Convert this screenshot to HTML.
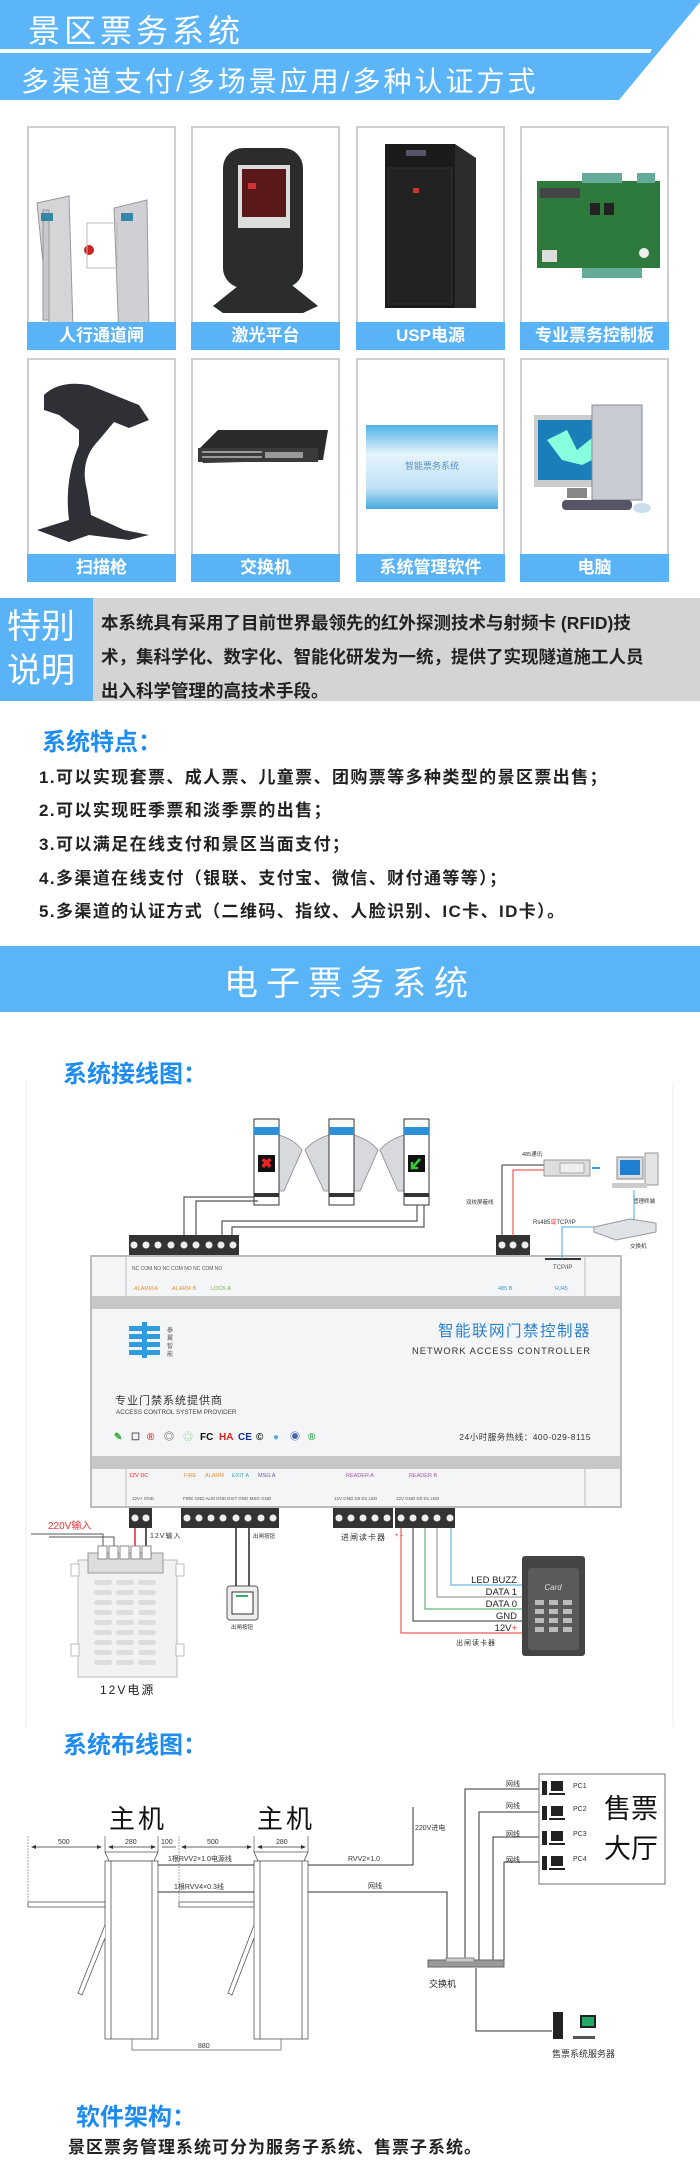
<!DOCTYPE html>
<html><head><meta charset="utf-8">
<style>
*{margin:0;padding:0;box-sizing:border-box}
body{width:700px;height:2170px;background:#fff;position:relative;overflow:hidden;font-family:"Liberation Sans","Noto Sans CJK SC",sans-serif}
.a{position:absolute;white-space:nowrap}
.card{position:absolute;width:149px;border:2px solid #cfcfcf;background:#fff}
.lab{position:absolute;left:-2px;right:-2px;bottom:-2px;height:28px;background:#5ab3f6;color:#fff;font-size:17px;text-align:center;line-height:28px;font-weight:bold}
.blue{color:#1c8cf0;font-weight:bold;font-size:24px}
.li{position:absolute;left:39px;font-size:17px;font-weight:bold;color:#222;letter-spacing:1.4px;white-space:nowrap}
</style></head><body>

<!-- header -->
<svg class="a" style="left:0;top:0" width="700" height="100">
<polygon points="0,0 700,0 700,2 619,100 0,100" fill="#5cb5f8"/>
<polygon points="0,49 652,49 650,53 0,53" fill="#fff"/>
</svg>
<div class="a" style="left:28px;top:6px;font-size:32px;color:#fff;letter-spacing:4px">景区票务系统</div>
<div class="a" style="left:21px;top:60px;font-size:28px;color:#fff;letter-spacing:3px">多渠道支付/多场景应用/多种认证方式</div>

<!-- cards -->
<div class="card" style="left:27px;top:126px;height:224px">
<svg width="145" height="196"><g fill="#c8c8cc" stroke="#999"><path d="M8 75 L40 68 L44 200 L20 195 Z" fill="#d5d5d8"/><rect x="14" y="82" width="6" height="110"/><path d="M85 80 L118 72 L120 205 L90 210 Z" fill="#d0d0d4"/></g><rect x="12" y="85" width="12" height="8" fill="#38a"/><rect x="92" y="85" width="12" height="8" fill="#38a"/><circle cx="60" cy="122" r="5" fill="#c22"/><rect x="58" y="95" width="30" height="45" fill="none" stroke="#bbb"/></svg>
<div class="lab">人行通道闸</div></div>
<div class="card" style="left:191px;top:126px;height:224px">
<svg width="145" height="196"><rect x="30" y="20" width="80" height="140" rx="20" fill="#2b2d2c"/><rect x="45" y="37" width="52" height="63" fill="#ddd"/><rect x="49" y="41" width="44" height="48" fill="#5a1818"/><rect x="55" y="55" width="8" height="6" fill="#c33"/><path d="M20 178 L55 150 L90 150 L125 178 L110 185 L30 185 Z" fill="#2b2d2c"/></svg>
<div class="lab">激光平台</div></div>
<div class="card" style="left:356px;top:126px;height:224px">
<svg width="145" height="196"><rect x="27" y="16" width="70" height="164" fill="#1b1b1b"/><path d="M97 16 L118 30 L118 180 L97 180 Z" fill="#2c2c2c"/><rect x="48" y="22" width="20" height="6" fill="#556"/><rect x="30" y="40" width="64" height="136" fill="#222" stroke="#333"/><rect x="55" y="60" width="6" height="5" fill="#c33"/></svg>
<div class="lab">USP电源</div></div>
<div class="card" style="left:520px;top:126px;height:224px">
<svg width="145" height="196"><path d="M15 53 L138 53 L138 140 L15 140 Z" fill="#2e7a3c"/><rect x="60" y="45" width="40" height="10" fill="#6a9"/><rect x="115" y="45" width="18" height="10" fill="#6a9"/><rect x="60" y="140" width="60" height="10" fill="#6a9"/><rect x="18" y="60" width="40" height="10" fill="#444"/><rect x="20" y="122" width="15" height="12" fill="#ddd"/><circle cx="122" cy="125" r="5" fill="#eee"/><rect x="68" y="75" width="10" height="12" fill="#222"/><rect x="82" y="75" width="10" height="12" fill="#222"/></svg>
<div class="lab">专业票务控制板</div></div>

<div class="card" style="left:27px;top:358px;height:224px">
<svg width="145" height="196"><path d="M15 35 Q30 20 60 25 L110 45 L120 60 L100 68 L85 62 L70 80 Q50 100 58 130 L62 155 L95 170 L120 175 L100 180 L60 175 L40 182 L8 170 L40 160 Q35 120 50 85 L50 70 L30 55 L15 50 Z" fill="#2e3035"/></svg>
<div class="lab">扫描枪</div></div>
<div class="card" style="left:191px;top:358px;height:224px">
<svg width="145" height="196"><path d="M5 90 L25 70 L135 70 L130 100 L10 103 Z" fill="#2b2b2b"/><rect x="5" y="88" width="120" height="14" fill="#3a3a3a"/><g fill="#999"><rect x="9" y="91" width="60" height="2"/><rect x="9" y="96" width="60" height="2"/><rect x="72" y="92" width="38" height="6"/></g></svg>
<div class="lab">交换机</div></div>
<div class="card" style="left:356px;top:358px;height:224px">
<svg width="145" height="196"><defs><linearGradient id="g1" x1="0" y1="0" x2="0" y2="1"><stop offset="0" stop-color="#4fb2e8"/><stop offset=".35" stop-color="#e6f4fb"/><stop offset=".75" stop-color="#bfe2f5"/><stop offset="1" stop-color="#4aa8e0"/></linearGradient></defs><rect x="8" y="65" width="132" height="84" fill="url(#g1)"/><text x="74" y="109" font-size="9" fill="#5a8fc0" text-anchor="middle" font-family="Noto Sans CJK SC">智能票务系统</text></svg>
<div class="lab">系统管理软件</div></div>
<div class="card" style="left:520px;top:358px;height:224px">
<svg width="145" height="196"><rect x="12" y="55" width="80" height="72" fill="#ccc"/><rect x="16" y="60" width="72" height="60" fill="#1a7fb8"/><path d="M25 80 L45 70 L55 90 L70 78 L80 95 L60 105 L40 100 Z" fill="#8fd"/><rect x="70" y="45" width="50" height="95" fill="#c8ccd2" stroke="#889"/><rect x="40" y="140" width="70" height="10" rx="4" fill="#556" /><ellipse cx="120" cy="148" rx="9" ry="5" fill="#cde"/><rect x="45" y="128" width="20" height="10" fill="#888"/></svg>
<div class="lab">电脑</div></div>

<!-- special -->
<div class="a" style="left:0;top:598px;width:700px;height:103px;background:#d4d4d4"></div>
<div class="a" style="left:0;top:598px;width:93px;height:103px;background:#5ab3f6"></div>
<div class="a" style="left:7px;top:605px;font-size:34px;color:#fff;line-height:44px;white-space:normal;width:80px">特别<br>说明</div>
<div class="a" style="left:101px;top:606px;font-size:17.5px;font-weight:bold;color:#222;line-height:34px">本系统具有采用了目前世界最领先的红外探测技术与射频卡 (RFID)技<br>术，集科学化、数字化、智能化研发为一统，提供了实现隧道施工人员<br>出入科学管理的高技术手段。</div>

<div class="a blue" style="left:42px;top:722px">系统特点：</div>
<div class="li" style="top:763px">1.可以实现套票、成人票、儿童票、团购票等多种类型的景区票出售；</div>
<div class="li" style="top:796px">2.可以实现旺季票和淡季票的出售；</div>
<div class="li" style="top:830px">3.可以满足在线支付和景区当面支付；</div>
<div class="li" style="top:864px">4.多渠道在线支付（银联、支付宝、微信、财付通等等）；</div>
<div class="li" style="top:897px">5.多渠道的认证方式（二维码、指纹、人脸识别、IC卡、ID卡）。</div>

<div class="a" style="left:0;top:946px;width:700px;height:66px;background:#5ab4f8"></div>
<div class="a" style="left:0;top:956px;width:700px;text-align:center;font-size:34px;color:#fff;letter-spacing:8px">电子票务系统</div>

<!-- wiring -->
<div class="a blue" style="left:63px;top:1054px">系统接线图：</div>
<svg class="a" style="left:0;top:1075px" width="700" height="660" font-family="Liberation Sans, Noto Sans CJK SC, sans-serif">
<g transform="translate(0,-1075)">
<path d="M26 1082 V1727 M673 1082 V1727" stroke="#eee" stroke-width="1"/>
<g fill="#d7d9dc" stroke="#888" stroke-width="0.8">
<path d="M279 1135 Q295 1140 302 1150 L284 1191 L279 1191 Z"/>
<path d="M329 1135 Q313 1140 305 1150 L324 1191 L329 1191 Z"/>
<path d="M354 1135 Q370 1140 378 1150 L360 1191 L354 1191 Z"/>
<path d="M404 1135 Q388 1140 380 1150 L398 1191 L404 1191 Z"/>
</g>
<g stroke="#333" stroke-width="1" fill="#fff">
<rect x="254" y="1119" width="25" height="86"/><rect x="329" y="1119" width="25" height="86"/><rect x="404" y="1119" width="25" height="86"/></g>
<g fill="#2d8fd6"><rect x="254" y="1127" width="25" height="8"/><rect x="329" y="1127" width="25" height="8"/><rect x="404" y="1127" width="25" height="8"/></g>
<g fill="#333"><rect x="254" y="1193" width="25" height="4"/><rect x="329" y="1193" width="25" height="4"/><rect x="404" y="1193" width="25" height="4"/></g>
<rect x="258" y="1155" width="17" height="17" fill="#111"/><text x="266.5" y="1168" font-size="14" fill="#e22" text-anchor="middle" font-weight="bold">✖</text>
<rect x="408" y="1155" width="17" height="17" fill="#111"/><path d="M420 1159 L412 1168 M412 1162 V1168 H418" stroke="#3c3" stroke-width="2.5" fill="none"/>
<g stroke="#555" stroke-width="1.2" fill="none">
<path d="M184 1236 V1197 H254"/><path d="M196 1236 V1201 H258"/>
<path d="M222 1236 V1221 H417 V1205"/><path d="M232 1236 V1227 H424 V1205"/>
</g>
<rect x="129" y="1235" width="110" height="21" fill="#333"/>
<g fill="#eee"><circle cx="134" cy="1245" r="3.5"/><circle cx="146" cy="1245" r="3.5"/><circle cx="158" cy="1245" r="3.5"/><circle cx="171" cy="1245" r="3.5"/><circle cx="184" cy="1245" r="3.5"/><circle cx="196" cy="1245" r="3.5"/><circle cx="209" cy="1245" r="3.5"/><circle cx="221" cy="1245" r="3.5"/><circle cx="233" cy="1245" r="3.5"/></g>
<rect x="496" y="1235" width="34" height="21" fill="#333"/>
<g fill="#eee"><circle cx="502" cy="1245" r="3.5"/><circle cx="513" cy="1245" r="3.5"/><circle cx="525" cy="1245" r="3.5"/></g>
<rect x="91" y="1256" width="530" height="251" fill="#f4f5f6" stroke="#bbb" stroke-width="2"/>
<rect x="92" y="1296" width="528" height="13" fill="#c5c7c9"/>
<rect x="92" y="1456" width="528" height="13" fill="#c5c7c9"/>
<path d="M126 1257 V1296 M585 1257 V1296 M126 1469 V1506 M585 1469 V1506" stroke="#bbb"/>
<g font-size="5" fill="#555"><text x="132" y="1270">NC COM NO  NC COM NO  NC COM NO</text></g>
<text x="134" y="1290" font-size="5.5" fill="#e8902a">ALARM A</text><text x="172" y="1290" font-size="5.5" fill="#e8902a">ALARM B</text><text x="211" y="1290" font-size="5.5" fill="#6b3">LOCK A</text>
<text x="498" y="1290" font-size="5.5" fill="#39d">485 B</text><text x="555" y="1290" font-size="5.5" fill="#39d">RJ45</text>
<rect x="545" y="1258" width="36" height="2" fill="#333"/><text x="553" y="1269" font-size="6" fill="#555">TCP/IP</text>
<text x="591" y="1336" font-size="15.5" fill="#2a7fd0" text-anchor="end" letter-spacing="1.5">智能联网门禁控制器</text>
<text x="591" y="1354" font-size="9.3" fill="#333" text-anchor="end" letter-spacing="1">NETWORK ACCESS CONTROLLER</text>
<g fill="#2f9be0"><rect x="129" y="1326" width="31" height="5"/><rect x="129" y="1334" width="31" height="5"/><rect x="129" y="1342" width="31" height="5"/><rect x="129" y="1350" width="31" height="5"/><rect x="142" y="1322" width="5" height="36"/></g>
<text x="167" y="1332" font-size="6" fill="#555">泰</text><text x="167" y="1340" font-size="6" fill="#555">翼</text><text x="167" y="1348" font-size="6" fill="#555">智</text><text x="167" y="1356" font-size="6" fill="#555">能</text>
<text x="115" y="1404" font-size="11" fill="#333" letter-spacing="1">专业门禁系统提供商</text>
<text x="116" y="1414" font-size="6.3" fill="#444">ACCESS CONTROL SYSTEM PROVIDER</text>
<g font-size="10" font-weight="bold"><text x="114" y="1440" fill="#3a3">✎</text><text x="131" y="1440" fill="#555">☐</text><text x="147" y="1440" fill="#d33">®</text><text x="164" y="1440" fill="#555">◎</text><text x="183" y="1440" fill="#5b5">♲</text><text x="200" y="1440" fill="#111">FC</text><text x="219" y="1440" fill="#d22">HA</text><text x="238" y="1440" fill="#139">CE</text><text x="256" y="1440" fill="#111">©</text><text x="273" y="1440" fill="#5ad">●</text><text x="290" y="1440" fill="#46a">◉</text><text x="308" y="1440" fill="#3a5">®</text></g>
<text x="591" y="1440" font-size="8.5" fill="#333" text-anchor="end" letter-spacing="0.5">24小时服务热线：400-029-8115</text>
<text x="129" y="1477" font-size="5.5" fill="#e22">12V DC</text>
<text x="184" y="1477" font-size="5.5" fill="#e8902a">FIRE</text><text x="205" y="1477" font-size="5.5" fill="#e8902a">ALARM</text><text x="232" y="1477" font-size="5.5" fill="#3aa">EXIT A</text><text x="258" y="1477" font-size="5.5" fill="#65a">MSG A</text>
<text x="346" y="1477" font-size="5.5" fill="#a5a">READER A</text><text x="409" y="1477" font-size="5.5" fill="#a5a">READER B</text>
<g font-size="4.5" fill="#555"><text x="132" y="1500">12V+ GND</text><text x="183" y="1500">FIRE GND ALM GND EXIT GND MSG GND</text><text x="334" y="1500">12V GND D0 D1 LED</text><text x="396" y="1500">12V GND D0 D1 LED</text></g>
<g fill="#333"><rect x="129" y="1508" width="23" height="20"/><rect x="181" y="1508" width="98" height="20"/><rect x="333" y="1508" width="60" height="20"/><rect x="395" y="1508" width="60" height="20"/></g>
<g fill="#eee"><circle cx="135" cy="1518" r="3.5"/><circle cx="146" cy="1518" r="3.5"/>
<circle cx="187" cy="1518" r="3.5"/><circle cx="199" cy="1518" r="3.5"/><circle cx="211" cy="1518" r="3.5"/><circle cx="223" cy="1518" r="3.5"/><circle cx="236" cy="1518" r="3.5"/><circle cx="248" cy="1518" r="3.5"/><circle cx="261" cy="1518" r="3.5"/><circle cx="273" cy="1518" r="3.5"/>
<circle cx="339" cy="1518" r="3.5"/><circle cx="351" cy="1518" r="3.5"/><circle cx="363" cy="1518" r="3.5"/><circle cx="375" cy="1518" r="3.5"/><circle cx="387" cy="1518" r="3.5"/>
<circle cx="401" cy="1518" r="3.5"/><circle cx="413" cy="1518" r="3.5"/><circle cx="425" cy="1518" r="3.5"/><circle cx="437" cy="1518" r="3.5"/><circle cx="450" cy="1518" r="3.5"/></g>
<text x="48" y="1529" font-size="10" fill="#e33">220V输入</text>
<path d="M31 1534 H103 V1550 M49 1537 H114 V1550" stroke="#555" fill="none"/>
<path d="M135 1528 V1550" stroke="#e22" stroke-width="1.5"/><path d="M146 1528 V1550" stroke="#222" stroke-width="1.5"/>
<text x="150" y="1538" font-size="7" fill="#333" letter-spacing="1">12V输入</text>
<rect x="78" y="1560" width="99" height="117" fill="#f2f2f2" stroke="#bbb"/>
<rect x="71" y="1564" width="8" height="12" fill="#fff" stroke="#bbb"/><rect x="176" y="1564" width="8" height="12" fill="#fff" stroke="#bbb"/><rect x="71" y="1644" width="8" height="12" fill="#fff" stroke="#bbb"/><rect x="176" y="1644" width="8" height="12" fill="#fff" stroke="#bbb"/>
<rect x="88" y="1553" width="75" height="20" fill="#ddd" stroke="#999"/>
<g fill="#fff" stroke="#888"><rect x="98" y="1546" width="9" height="13"/><rect x="109" y="1546" width="9" height="13"/><rect x="120" y="1546" width="9" height="13"/><rect x="131" y="1546" width="9" height="13"/><rect x="142" y="1546" width="9" height="13"/></g>
<g fill="#ddd"><rect x="94" y="1580" width="18" height="5" rx="2.5"/><rect x="116" y="1580" width="18" height="5" rx="2.5"/><rect x="138" y="1580" width="18" height="5" rx="2.5"/>
<rect x="94" y="1590" width="18" height="5" rx="2.5"/><rect x="116" y="1590" width="18" height="5" rx="2.5"/><rect x="138" y="1590" width="18" height="5" rx="2.5"/>
<rect x="94" y="1600" width="18" height="5" rx="2.5"/><rect x="116" y="1600" width="18" height="5" rx="2.5"/><rect x="138" y="1600" width="18" height="5" rx="2.5"/>
<rect x="94" y="1610" width="18" height="5" rx="2.5"/><rect x="116" y="1610" width="18" height="5" rx="2.5"/><rect x="138" y="1610" width="18" height="5" rx="2.5"/>
<rect x="94" y="1620" width="18" height="5" rx="2.5"/><rect x="116" y="1620" width="18" height="5" rx="2.5"/><rect x="138" y="1620" width="18" height="5" rx="2.5"/>
<rect x="94" y="1630" width="18" height="5" rx="2.5"/><rect x="116" y="1630" width="18" height="5" rx="2.5"/><rect x="138" y="1630" width="18" height="5" rx="2.5"/>
<rect x="94" y="1640" width="18" height="5" rx="2.5"/><rect x="116" y="1640" width="18" height="5" rx="2.5"/><rect x="138" y="1640" width="18" height="5" rx="2.5"/>
<rect x="94" y="1650" width="18" height="5" rx="2.5"/><rect x="116" y="1650" width="18" height="5" rx="2.5"/><rect x="138" y="1650" width="18" height="5" rx="2.5"/>
<rect x="94" y="1660" width="18" height="5" rx="2.5"/><rect x="116" y="1660" width="18" height="5" rx="2.5"/><rect x="138" y="1660" width="18" height="5" rx="2.5"/></g>
<text x="100" y="1694" font-size="12" fill="#222" letter-spacing="2">12V电源</text>
<path d="M236 1528 V1588 M249 1528 V1588" stroke="#222" stroke-width="1.5"/>
<text x="253" y="1538" font-size="5.5" fill="#333">出闸按钮</text>
<rect x="227" y="1586" width="31" height="34" rx="3" fill="#eee" stroke="#555"/><rect x="232" y="1592" width="21" height="22" fill="#fff" stroke="#333"/><rect x="236" y="1595" width="12" height="2" fill="#3a6"/>
<text x="231" y="1629" font-size="5.5" fill="#333">出闸按钮</text>
<text x="341" y="1540" font-size="8" fill="#333" letter-spacing="1">进闸读卡器</text>
<text x="395" y="1537" font-size="6" fill="#e22">+</text><text x="401" y="1537" font-size="6" fill="#333">-</text>
<path d="M401 1528 V1633 H522" stroke="#e33" fill="none"/>
<path d="M413 1528 V1621 H522" stroke="#333" fill="none"/>
<path d="M425 1528 V1609 H522" stroke="#3a5" fill="none"/>
<path d="M437 1528 V1597 H522" stroke="#888" fill="none"/>
<path d="M451 1528 V1585 H522" stroke="#4ad" fill="none"/>
<g font-size="9.5" fill="#222" text-anchor="end"><text x="517" y="1583">LED BUZZ</text><text x="517" y="1595">DATA 1</text><text x="517" y="1607">DATA 0</text><text x="517" y="1619">GND</text><text x="517" y="1631">12V<tspan fill="#e33">+</tspan></text></g>
<text x="456" y="1645" font-size="7" fill="#333" letter-spacing="1">出闸读卡器</text>
<rect x="522" y="1556" width="63" height="100" rx="3" fill="#444"/><rect x="528" y="1568" width="51" height="82" rx="3" fill="#5a5a5a"/>
<text x="553" y="1590" font-size="8" fill="#ddd" text-anchor="middle" font-style="italic">Card</text>
<g fill="#bbb"><rect x="535" y="1600" width="9" height="5"/><rect x="549" y="1600" width="9" height="5"/><rect x="563" y="1600" width="9" height="5"/><rect x="535" y="1609" width="9" height="5"/><rect x="549" y="1609" width="9" height="5"/><rect x="563" y="1609" width="9" height="5"/><rect x="535" y="1618" width="9" height="5"/><rect x="549" y="1618" width="9" height="5"/><rect x="563" y="1618" width="9" height="5"/><rect x="535" y="1627" width="9" height="5"/><rect x="549" y="1627" width="9" height="5"/><rect x="563" y="1627" width="9" height="5"/></g>
<text x="522" y="1156" font-size="5.5" fill="#333">485通讯</text>
<path d="M502 1236 V1165 H548" stroke="#333" fill="none"/><path d="M513 1236 V1170 H548" stroke="#e33" fill="none"/>
<rect x="544" y="1160" width="46" height="16" fill="#ddd" stroke="#999"/><rect x="560" y="1163" width="24" height="10" fill="#eee" stroke="#aaa"/>
<path d="M592 1168 H600" stroke="#39d" stroke-width="2"/>
<text x="466" y="1204" font-size="5.5" fill="#333">双绞屏蔽线</text>
<rect x="617" y="1157" width="26" height="22" fill="#ddd" stroke="#888"/><rect x="620" y="1160" width="20" height="15" fill="#1f7fd0"/><rect x="645" y="1153" width="13" height="32" fill="#e4e4e4" stroke="#999"/><rect x="612" y="1183" width="35" height="5" fill="#ccc"/>
<text x="633" y="1203" font-size="5.5" fill="#333">管理终端</text>
<path d="M634 1190 V1222 M562 1259 V1227 H596" stroke="#4ad" fill="none"/>
<text x="533" y="1224" font-size="6" fill="#333">Rs485<tspan fill="#e33">或</tspan>TCP/IP</text>
<path d="M594 1227 L630 1219 L656 1223 L656 1232 L616 1240 L594 1232 Z" fill="#dfe2e6" stroke="#999"/>
<text x="630" y="1248" font-size="5.5" fill="#333">交换机</text>
</g></svg>

<!-- layout diagram -->
<div class="a blue" style="left:63px;top:1725px">系统布线图：</div>
<svg class="a" style="left:0;top:1760px" width="700" height="310" font-family="Liberation Sans, Noto Sans CJK SC, sans-serif">
<g transform="translate(0,-1760)">
<text x="109" y="1828" font-size="26" fill="#111" letter-spacing="3">主机</text>
<text x="257" y="1828" font-size="26" fill="#111" letter-spacing="3">主机</text>
<g stroke="#aaa" stroke-dasharray="2,1"><path d="M28 1836 V1902 M179 1836 V1902"/></g>
<g stroke="#888"><path d="M105 1836 V1852 M158 1836 V1852 M254 1836 V1852 M308 1836 V1852"/></g>
<g stroke="#333" stroke-width="0.8"><path d="M33 1847 H100 M109 1847 H154 M162 1847 H176 M182 1847 H250 M258 1847 H304"/></g>
<g fill="#333"><path d="M31 1847 l5 -2 v4z M102 1847 l-5 -2 v4z M108 1847 l5 -2 v4z M156 1847 l-5 -2 v4z M181 1847 l5 -2 v4z M252 1847 l-5 -2 v4z M257 1847 l5 -2 v4z M306 1847 l-5 -2 v4z"/></g>
<g font-size="7" fill="#333"><text x="58" y="1844">500</text><text x="125" y="1844">280</text><text x="161" y="1844">100</text><text x="207" y="1844">500</text><text x="276" y="1844">280</text></g>
<g fill="#fff" stroke="#555" stroke-width="0.8">
<path d="M105 1852 H158 L154 1861 H109 Z"/><rect x="105" y="1861" width="53" height="178"/><path d="M111 1861 V2039 M152 1861 V2039"/>
<path d="M254 1852 H308 L304 1861 H258 Z"/><rect x="254" y="1861" width="54" height="178"/><path d="M260 1861 V2039 M302 1861 V2039"/>
<rect x="28" y="1902" width="77" height="5"/><rect x="179" y="1902" width="75" height="5"/>
<path d="M105 1925 L78 1993 L82 1995 L105 1938"/><path d="M254 1925 L228 1993 L232 1995 L254 1938"/>
</g>
<path d="M132 2039 V2050 H281 V2039" stroke="#888" fill="none"/>
<text x="198" y="2048" font-size="7" fill="#333">880</text>
<g stroke="#333" stroke-width="1" fill="none">
<path d="M158 1865 H254"/><path d="M158 1892 H254"/>
<path d="M308 1865 H413 V1807"/><path d="M308 1892 H447 V1962"/>
<path d="M465 1962 V1789 H540"/><path d="M479 1962 V1812 H540"/><path d="M493 1962 V1837 H540"/><path d="M504 1962 V1862 H540"/>
<path d="M476 1968 V2031 H552"/>
</g>
<g font-size="7" fill="#333"><text x="168" y="1861">1根RVV2×1.0电源线</text><text x="174" y="1889">1根RVV4×0.3线</text><text x="348" y="1861">RVV2×1.0</text><text x="415" y="1830">220V进电</text><text x="368" y="1888">网线</text>
<text x="506" y="1786">网线</text><text x="506" y="1808">网线</text><text x="506" y="1836">网线</text><text x="506" y="1862">网线</text></g>
<rect x="428" y="1960" width="76" height="7" fill="#999" stroke="#666"/><rect x="446" y="1958" width="28" height="4" fill="#ccc" stroke="#888"/>
<text x="429" y="1987" font-size="9" fill="#222">交换机</text>
<rect x="539" y="1774" width="126" height="110" fill="#fff" stroke="#888" stroke-width="1.2"/>
<g fill="#222">
<rect x="542" y="1781" width="5" height="14"/><rect x="551" y="1781" width="12" height="10"/><rect x="549" y="1793" width="16" height="2"/>
<rect x="542" y="1806" width="5" height="14"/><rect x="551" y="1806" width="12" height="10"/><rect x="549" y="1818" width="16" height="2"/>
<rect x="542" y="1831" width="5" height="14"/><rect x="551" y="1831" width="12" height="10"/><rect x="549" y="1843" width="16" height="2"/>
<rect x="542" y="1856" width="5" height="14"/><rect x="551" y="1856" width="12" height="10"/><rect x="549" y="1868" width="16" height="2"/></g>
<g font-size="7" fill="#333"><text x="573" y="1788">PC1</text><text x="573" y="1811">PC2</text><text x="573" y="1836">PC3</text><text x="573" y="1861">PC4</text></g>
<text x="604" y="1818" font-size="27" fill="#111">售票</text>
<text x="604" y="1858" font-size="27" fill="#111">大厅</text>
<rect x="553" y="2012" width="10" height="27" fill="#222"/><rect x="580" y="2015" width="16" height="13" fill="#222"/><rect x="582" y="2017" width="12" height="9" fill="#2a6"/><rect x="573" y="2036" width="22" height="3" fill="#555"/>
<text x="552" y="2057" font-size="9" fill="#333">售票系统服务器</text>
</g></svg>

<div class="a blue" style="left:76px;top:2097px">软件架构：</div>
<div class="a" style="left:68px;top:2133px;font-size:17px;font-weight:bold;color:#222;letter-spacing:1px">景区票务管理系统可分为服务子系统、售票子系统。</div>
</body></html>
